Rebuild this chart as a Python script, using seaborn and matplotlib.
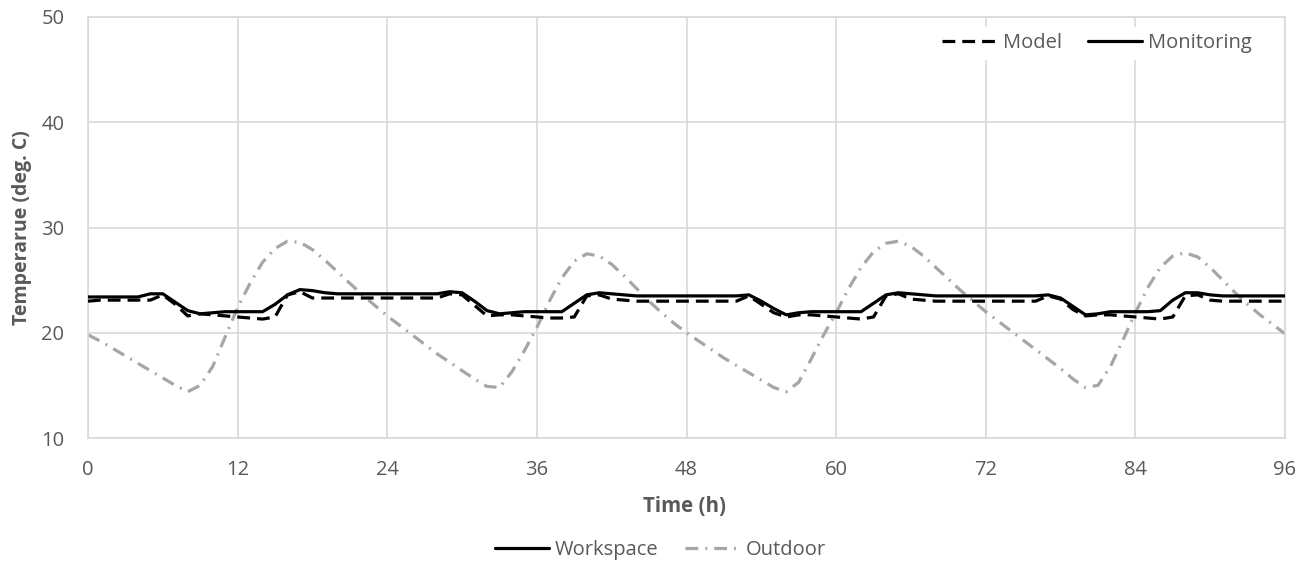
import matplotlib
matplotlib.use("Agg")
import matplotlib.pyplot as plt
from matplotlib.lines import Line2D
import seaborn as sns
import numpy as np

# ---- data ----
hours = list(range(0, 97))

workspace_monitoring = [
    23.4, 23.4, 23.4, 23.4, 23.4, 23.7, 23.7, 22.9, 22.1, 21.8, 21.9, 22.0,
    22.0, 22.0, 22.0, 22.7, 23.6, 24.1, 24.0, 23.8, 23.7, 23.7, 23.7, 23.7,
    23.7, 23.7, 23.7, 23.7, 23.7, 23.9, 23.8, 23.0, 22.1, 21.8, 21.9, 22.0,
    22.0, 22.0, 22.0, 22.8, 23.6, 23.8, 23.7, 23.6, 23.5, 23.5, 23.5, 23.5,
    23.5, 23.5, 23.5, 23.5, 23.5, 23.6, 23.0, 22.3, 21.7, 21.9, 22.0, 22.0,
    22.0, 22.0, 22.0, 22.8, 23.6, 23.8, 23.7, 23.6, 23.5, 23.5, 23.5, 23.5,
    23.5, 23.5, 23.5, 23.5, 23.5, 23.6, 23.3, 22.5, 21.7, 21.8, 22.0, 22.0,
    22.0, 22.0, 22.1, 23.1, 23.8, 23.8, 23.6, 23.5, 23.5, 23.5, 23.5, 23.5,
    23.5,
]

workspace_model = [
    23.0, 23.1, 23.1, 23.1, 23.1, 23.1, 23.6, 22.7, 21.6, 21.8, 21.7, 21.6,
    21.5, 21.4, 21.3, 21.5, 23.6, 23.9, 23.3, 23.3, 23.3, 23.3, 23.3, 23.3,
    23.3, 23.3, 23.3, 23.3, 23.3, 23.7, 23.6, 22.6, 21.6, 21.7, 21.7, 21.6,
    21.5, 21.4, 21.4, 21.5, 23.5, 23.6, 23.2, 23.1, 23.0, 23.0, 23.0, 23.0,
    23.0, 23.0, 23.0, 23.0, 23.0, 23.5, 22.7, 21.9, 21.5, 21.7, 21.7, 21.6,
    21.5, 21.4, 21.3, 21.5, 23.5, 23.7, 23.2, 23.1, 23.0, 23.0, 23.0, 23.0,
    23.0, 23.0, 23.0, 23.0, 23.0, 23.5, 23.2, 22.2, 21.6, 21.7, 21.7, 21.6,
    21.5, 21.4, 21.3, 21.5, 23.5, 23.6, 23.1, 23.0, 23.0, 23.0, 23.0, 23.0,
    23.0,
]

outdoor = [
    19.8, 19.2, 18.5, 17.8, 17.1, 16.4, 15.7, 15.0, 14.4, 15.0, 16.8, 19.6,
    22.4, 24.7, 26.7, 28.0, 28.7, 28.6, 27.9, 26.9, 25.8, 24.7, 23.6, 22.6,
    21.6, 20.7, 19.8, 18.9, 18.0, 17.2, 16.4, 15.6, 14.9, 14.8, 16.3, 18.3,
    20.5, 23.0, 25.2, 26.8, 27.5, 27.3, 26.5, 25.4, 24.2, 23.0, 21.9, 20.9,
    20.0, 19.2, 18.4, 17.6, 16.9, 16.2, 15.5, 14.8, 14.4, 15.3, 17.5, 19.8,
    21.9, 24.2, 26.2, 27.7, 28.5, 28.7, 28.2, 27.3, 26.2, 25.1, 24.0, 23.0,
    22.0, 21.1, 20.2, 19.3, 18.4, 17.5, 16.6, 15.6, 14.8, 15.0, 16.8, 19.3,
    21.9, 24.3, 26.2, 27.3, 27.6, 27.2, 26.2, 25.0, 23.8, 22.7, 21.7, 20.8,
    19.9,
]

x_ticks = [0, 12, 24, 36, 48, 60, 72, 84, 96]
y_ticks = [10, 20, 30, 40, 50]

# ---- style ----
sns.set_style("white")
plt.rcParams["font.family"] = ["Open Sans", "DejaVu Sans"]
text_col = "#595959"
grid_col = "#d9d9d9"
out_col = "#a6a6a6"
lw = 2.3
model_dash = [4.0, 2.2]
outdoor_dash = [4.0, 2.2, 0.6, 2.2]
fs = 14.5
fs_lab = 14

fig = plt.figure(figsize=(13.12, 5.61), dpi=100)
ax = fig.add_axes([88 / 1312, 1 - 438 / 561, (1285 - 88) / 1312, (438 - 17) / 561])

sns.lineplot(x=hours, y=outdoor, ax=ax, color=out_col, linewidth=lw, zorder=2)
ax.lines[-1].set_dashes(outdoor_dash)
sns.lineplot(x=hours, y=workspace_model, ax=ax, color="black", linewidth=lw, zorder=3)
ax.lines[-1].set_dashes(model_dash)
sns.lineplot(x=hours, y=workspace_monitoring, ax=ax, color="black", linewidth=lw, zorder=4)

ax.set_xlim(0, 96)
ax.set_ylim(10, 50)
ax.set_xticks(x_ticks)
ax.set_yticks(y_ticks)
ax.grid(True, color=grid_col, linewidth=1.2)
ax.set_axisbelow(True)
for s in ax.spines.values():
    s.set_visible(True)
    s.set_color(grid_col)
    s.set_linewidth(1.2)
ax.tick_params(axis="x", length=0, labelsize=fs, labelcolor=text_col, pad=16)
ax.tick_params(axis="y", length=0, labelsize=fs, labelcolor=text_col, pad=17)

ax.set_xlabel("Time (h)", fontsize=fs_lab + 0.8, fontweight="bold", color=text_col)
ax.xaxis.set_label_coords(0.4987, (438 - 506) / 421)
ax.xaxis.label.set_verticalalignment("center")
ax.set_ylabel("Temperarue (deg. C)", fontsize=fs_lab, fontweight="bold", color=text_col)
ax.yaxis.set_label_coords((22 - 88) / 1197, 0.5)
ax.yaxis.label.set_verticalalignment("center")

# top-right legend: line style meaning
h_model = Line2D([], [], color="black", linewidth=lw, dashes=model_dash)
h_mon = Line2D([], [], color="black", linewidth=lw)
leg1 = ax.legend([h_model, h_mon], ["Model", "Monitoring"], ncol=2,
                 loc="center", bbox_to_anchor=(1097 / 1312, 1 - 43 / 561),
                 bbox_transform=fig.transFigure, frameon=True,
                 framealpha=1, edgecolor="white", facecolor="white",
                 fontsize=fs, handlelength=2.7, handletextpad=0.3,
                 columnspacing=1.3, borderpad=0.3)
for t in leg1.get_texts():
    t.set_color(text_col)

# bottom legend: series
h_ws = Line2D([], [], color="black", linewidth=lw)
h_out = Line2D([], [], color=out_col, linewidth=lw, dashes=outdoor_dash)
leg2 = fig.legend([h_ws, h_out], ["Workspace", "Outdoor"], ncol=2,
                  loc="center", bbox_to_anchor=(660 / 1312, 1 - 550 / 561),
                  frameon=False, fontsize=fs, handlelength=2.7,
                  handletextpad=0.3, columnspacing=1.3)
for t in leg2.get_texts():
    t.set_color(text_col)

fig.savefig("out.png", dpi=100, facecolor="white")
